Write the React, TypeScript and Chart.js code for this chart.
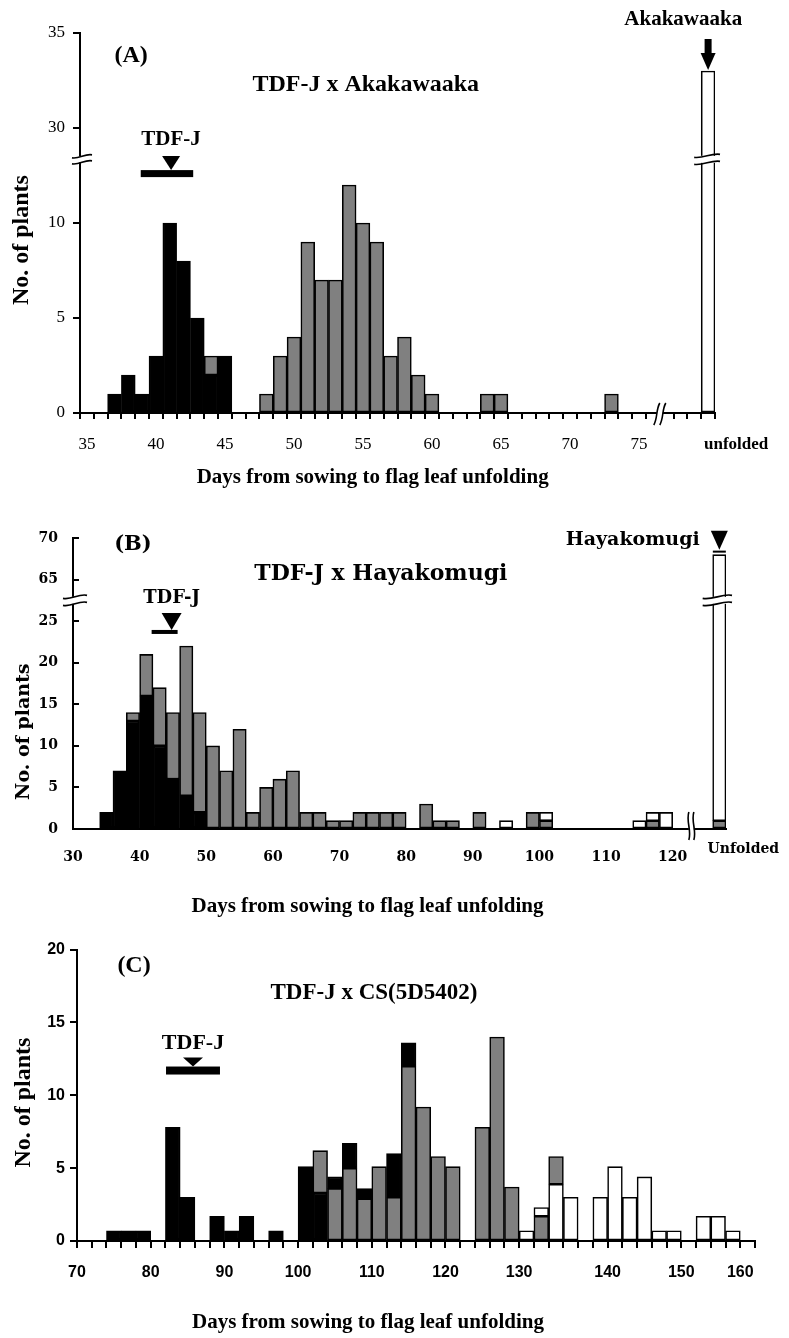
import React, { useEffect, useRef } from 'react';
import { Chart, registerables } from 'chart.js';

Chart.register(...registerables);

const SERIF = '"Liberation Serif", "Times New Roman", serif';
const CENTURY = '"DejaVu Serif", serif';
const SANS = '"Liberation Sans", Arial, sans-serif';
const BLACK = '#000000';
const GRAY = '#808080';
const WHITE = '#ffffff';

const xTitle = 'Days from sowing to flag leaf unfolding';
const yTitle = 'No. of plants';
const seriesNames = ['TDF-J type', 'Intermediate', 'Late type'];

// ===== Panel A: TDF-J x Akakawaaka (1-day classes) =====
const titleA = 'TDF-J x Akakawaaka';
const categoriesA = [
  '35', '36', '37', '38', '39', '40', '41', '42', '43', '44',
  '45', '46', '47', '48', '49', '50', '51', '52', '53', '54',
  '55', '56', '57', '58', '59', '60', '61', '62', '63', '64',
  '65', '66', '67', '68', '69', '70', '71', '72', '73', '74',
  '75', '76', '77', '78', '79', 'unfolded',
];
const blackA = [
  0, 0, 1, 2, 1, 3, 10, 8, 5, 2,
  3, 0, 0, 0, 0, 0, 0, 0, 0, 0,
  0, 0, 0, 0, 0, 0, 0, 0, 0, 0,
  0, 0, 0, 0, 0, 0, 0, 0, 0, 0,
  0, 0, 0, 0, 0, 0,
];
const grayA = [
  0, 0, 0, 0, 0, 0, 0, 0, 0, 1,
  0, 0, 0, 1, 3, 4, 9, 7, 7, 12,
  10, 9, 3, 4, 2, 1, 0, 0, 0, 1,
  1, 0, 0, 0, 0, 0, 0, 0, 1, 0,
  0, 0, 0, 0, 0, 0,
];
const whiteA = [
  0, 0, 0, 0, 0, 0, 0, 0, 0, 0,
  0, 0, 0, 0, 0, 0, 0, 0, 0, 0,
  0, 0, 0, 0, 0, 0, 0, 0, 0, 0,
  0, 0, 0, 0, 0, 0, 0, 0, 0, 0,
  0, 0, 0, 0, 0, 33,
];
const yTickValuesA = [0, 5, 10, 15, 20];
const yTickLabelsA = ['0', '5', '10', '30', '35'];
const axisBreakA = { at: 30, shift: 15 };
const xTickIndexA = [0, 5, 10, 15, 20, 25, 30, 35, 40];
const xTickLabelsA = ['35', '40', '45', '50', '55', '60', '65', '70', '75'];
const unfoldedIndexA = 45;
const parentA = { label: 'TDF-J', from: 3.9, to: 7.7, at: 6.1, y: 12.6 };
const donorA = { label: 'Akakawaaka', labelAt: 43.2, labelY: 20.7 };

// ===== Panel B: TDF-J x Hayakomugi (2-day classes) =====
const titleB = 'TDF-J x Hayakomugi';
const categoriesB = [
  '30', '32', '34', '36', '38', '40', '42', '44', '46', '48',
  '50', '52', '54', '56', '58', '60', '62', '64', '66', '68',
  '70', '72', '74', '76', '78', '80', '82', '84', '86', '88',
  '90', '92', '94', '96', '98', '100', '102', '104', '106', '108',
  '110', '112', '114', '116', '118', '120', '122', '124', 'Unfolded',
];
const blackB = [
  0, 0, 2, 7, 13, 16, 10, 6, 4, 2,
  0, 0, 0, 0, 0, 0, 0, 0, 0, 0,
  0, 0, 0, 0, 0, 0, 0, 0, 0, 0,
  0, 0, 0, 0, 0, 0, 0, 0, 0, 0,
  0, 0, 0, 0, 0, 0, 0, 0, 0,
];
const grayB = [
  0, 0, 0, 0, 1, 5, 7, 8, 18, 12,
  10, 7, 12, 2, 5, 6, 7, 2, 2, 1,
  1, 2, 2, 2, 2, 0, 3, 1, 1, 0,
  2, 0, 0, 0, 2, 1, 0, 0, 0, 0,
  0, 0, 0, 1, 0, 0, 0, 0, 1,
];
const whiteB = [
  0, 0, 0, 0, 0, 0, 0, 0, 0, 0,
  0, 0, 0, 0, 0, 0, 0, 0, 0, 0,
  0, 0, 0, 0, 0, 0, 0, 0, 0, 0,
  0, 0, 1, 0, 0, 1, 0, 0, 0, 0,
  0, 0, 1, 1, 2, 0, 0, 0, 67,
];
const yTickValuesB = [0, 5, 10, 15, 20, 25, 30, 35];
const yTickLabelsB = ['0', '5', '10', '15', '20', '25', '65', '70'];
const axisBreakB = { at: 60, shift: 35 };
const xTickIndexB = [0, 5, 10, 15, 20, 25, 30, 35, 40, 45];
const xTickLabelsB = ['30', '40', '50', '60', '70', '80', '90', '100', '110', '120'];
const unfoldedIndexB = 48;
const parentB = { label: 'TDF-J', from: 5.4, to: 7.35, at: 6.9, y: 23.7 };
const donorB = { label: 'Hayakomugi', labelAt: 41.5, labelY: 34.8 };

// ===== Panel C: TDF-J x CS(5D5402) (2-day classes) =====
const titleC = 'TDF-J x CS(5D5402)';
const categoriesC = [
  '70', '72', '74', '76', '78', '80', '82', '84', '86', '88',
  '90', '92', '94', '96', '98', '100', '102', '104', '106', '108',
  '110', '112', '114', '116', '118', '120', '122', '124', '126', '128',
  '130', '132', '134', '136', '138', '140', '142', '144', '146', '148',
  '150', '152', '154', '156', '158', '160',
];
const blackBaseC = [
  0, 0, 0.7, 0.7, 0.7, 0, 7.8, 3, 0, 1.7,
  0.7, 1.7, 0, 0.7, 0, 5.1, 3.3, 0, 0, 0,
  0, 0, 0, 0, 0, 0, 0, 0, 0, 0,
  0, 0, 0, 0, 0, 0, 0, 0, 0, 0,
  0, 0, 0, 0, 0, 0,
];
const whiteBaseC = [
  0, 0, 0, 0, 0, 0, 0, 0, 0, 0,
  0, 0, 0, 0, 0, 0, 0, 0, 0, 0,
  0, 0, 0, 0, 0, 0, 0, 0, 0, 0,
  0.7, 0, 3.9, 3, 0, 3, 5.1, 3, 4.4, 0.7,
  0.7, 0, 1.7, 1.7, 0.7, 0,
];
const grayC = [
  0, 0, 0, 0, 0, 0, 0, 0, 0, 0,
  0, 0, 0, 0, 0, 0, 2.9, 3.6, 5, 2.9,
  5.1, 3, 12, 9.2, 5.8, 5.1, 0, 7.8, 14, 3.7,
  0, 1.7, 1.9, 0, 0, 0, 0, 0, 0, 0,
  0, 0, 0, 0, 0, 0,
];
const blackCapC = [
  0, 0, 0, 0, 0, 0, 0, 0, 0, 0,
  0, 0, 0, 0, 0, 0, 0, 0.8, 1.7, 0.7,
  0, 3, 1.6, 0, 0, 0, 0, 0, 0, 0,
  0, 0, 0, 0, 0, 0, 0, 0, 0, 0,
  0, 0, 0, 0, 0, 0,
];
const whiteCapC = [
  0, 0, 0, 0, 0, 0, 0, 0, 0, 0,
  0, 0, 0, 0, 0, 0, 0, 0, 0, 0,
  0, 0, 0, 0, 0, 0, 0, 0, 0, 0,
  0, 0.6, 0, 0, 0, 0, 0, 0, 0, 0,
  0, 0, 0, 0, 0, 0,
];
const xTickIndexC = [0, 5, 10, 15, 20, 25, 30, 36, 41, 45];
const xTickLabelsC = ['70', '80', '90', '100', '110', '120', '130', '140', '150', '160'];
const parentC = { label: 'TDF-J', from: 5.54, to: 9.2, at: 7.37, y: 11.7 };

// ===== helpers =====
type Brk = { at: number; shift: number };

function toDisplay(stack: number[][], brk?: Brk) {
  const T = (v: number) => (brk && v >= brk.at ? v - brk.shift : v);
  return stack.map((series, si) =>
    series.map((v, i) => {
      if (!v) return null;
      let below = 0;
      for (let s = 0; s < si; s++) below += stack[s][i];
      return T(below + v) - T(below);
    })
  );
}

function datasets(stack: (number | null)[][], colors: string[], names: string[]) {
  return stack.map((data, i) => ({
    label: names[i],
    data,
    backgroundColor: colors[i],
    borderColor: '#000',
    borderWidth: 1.6,
    borderSkipped: false,
    barPercentage: 1,
    categoryPercentage: 1,
    stack: 'all',
  }));
}

function pick(indexes: number[], labels: string[]) {
  return (_v: any, i: number) => {
    const k = indexes.indexOf(i);
    return k >= 0 ? labels[k] : '';
  };
}

function txt(ctx: CanvasRenderingContext2D, s: string, x: number, y: number, font: string, align: CanvasTextAlign = 'center') {
  ctx.font = font;
  ctx.fillStyle = '#000';
  ctx.textAlign = align;
  ctx.textBaseline = 'middle';
  ctx.fillText(s, x, y);
}

function vtext(ctx: CanvasRenderingContext2D, s: string, x: number, y: number, font: string) {
  ctx.save();
  ctx.translate(x, y);
  ctx.rotate(-Math.PI / 2);
  txt(ctx, s, 0, 0, font);
  ctx.restore();
}

function wave(ctx: CanvasRenderingContext2D, x1: number, y1: number, x2: number, y2: number, amp: number) {
  const dx = x2 - x1, dy = y2 - y1;
  const len = Math.hypot(dx, dy) || 1;
  const nx = -dy / len, ny = dx / len;
  ctx.beginPath();
  ctx.moveTo(x1, y1);
  ctx.bezierCurveTo(
    x1 + dx / 3 + nx * amp, y1 + dy / 3 + ny * amp,
    x1 + (2 * dx) / 3 - nx * amp, y1 + (2 * dy) / 3 - ny * amp,
    x2, y2
  );
  ctx.stroke();
}

// break crossing a vertical line (axis or bar), drawn as two wavy strokes
function breakH(ctx: CanvasRenderingContext2D, xl: number, xr: number, y: number, gap: number, amp: number) {
  ctx.fillStyle = '#fff';
  ctx.fillRect(xl + 2, y - gap / 2, xr - xl - 4, gap);
  ctx.strokeStyle = '#000';
  ctx.lineWidth = 1.6;
  wave(ctx, xl, y - gap / 2 + 1.5, xr, y - gap / 2 - 1.5, amp);
  wave(ctx, xl, y + gap / 2 + 1.5, xr, y + gap / 2 - 1.5, amp);
}

// break crossing the horizontal x axis
function breakV(ctx: CanvasRenderingContext2D, x: number, yt: number, yb: number, gap: number, amp: number, slant: number) {
  ctx.fillStyle = '#fff';
  ctx.fillRect(x - gap / 2, yt + 3, gap, yb - yt - 6);
  ctx.strokeStyle = '#000';
  ctx.lineWidth = 1.6;
  wave(ctx, x - gap / 2 - slant, yb, x - gap / 2 + slant, yt, amp);
  wave(ctx, x + gap / 2 - slant, yb, x + gap / 2 + slant, yt, amp);
}

function parentMarker(
  ctx: CanvasRenderingContext2D, x1: number, x2: number, xt: number, yc: number,
  barH: number, triW: number, triH: number, label: string, font: string, gap: number
) {
  ctx.fillStyle = '#000';
  ctx.fillRect(x1, yc - barH / 2, x2 - x1, barH);
  const top = yc - barH / 2 - triH;
  ctx.beginPath();
  ctx.moveTo(xt - triW / 2, top);
  ctx.lineTo(xt + triW / 2, top);
  ctx.lineTo(xt, yc - barH / 2);
  ctx.closePath();
  ctx.fill();
  txt(ctx, label, xt, top - gap, font);
}

type H = {
  ctx: CanvasRenderingContext2D;
  px: (i: number) => number;
  py: (v: number) => number;
  area: { left: number; right: number; top: number; bottom: number };
  half: number;
};

function overlay(id: string, draw: (h: H) => void) {
  return {
    id,
    afterDraw(chart: any) {
      const ctx = chart.ctx as CanvasRenderingContext2D;
      const xs = chart.scales.x;
      const ys = chart.scales.y;
      const px = (i: number) => xs.getPixelForValue(i);
      const py = (v: number) => ys.getPixelForValue(v);
      ctx.save();
      draw({ ctx, px, py, area: chart.chartArea, half: (px(1) - px(0)) / 2 });
      ctx.restore();
    },
  };
}

const baseOptions = {
  animation: false,
  responsive: true,
  maintainAspectRatio: false,
  events: [],
  plugins: { legend: { display: false }, tooltip: { enabled: false }, title: { display: false } },
};

// ===== Panel A config =====
const fontA = { family: SERIF, size: 17 };
const padXA = 15;
const overlayA = overlay('overlayA', ({ ctx, px, py, area, half }) => {
  txt(ctx, '(A)', px(3.2), py(18.8), `bold 24px ${SERIF}`);
  txt(ctx, titleA, px(20.2), py(17.3), `bold 24px ${SERIF}`);
  parentMarker(ctx, px(parentA.from), px(parentA.to), px(parentA.at), py(parentA.y), 7, 18, 14, parentA.label, `bold 21px ${SERIF}`, 17);
  const xd = px(unfoldedIndexA);
  const tip = py(whiteA[unfoldedIndexA] - axisBreakA.shift) - 1;
  ctx.fillStyle = '#000';
  ctx.fillRect(xd - 3.5, tip - 31, 7, 15);
  ctx.beginPath();
  ctx.moveTo(xd - 7.5, tip - 17);
  ctx.lineTo(xd + 7.5, tip - 17);
  ctx.lineTo(xd, tip);
  ctx.closePath();
  ctx.fill();
  txt(ctx, donorA.label, px(donorA.labelAt), py(donorA.labelY), `bold 21px ${SERIF}`);
  txt(ctx, categoriesA[unfoldedIndexA], xd + 28, area.bottom + 6 + padXA + 10.2, `bold 17px ${SERIF}`);
  const yb = py(13.35);
  breakH(ctx, area.left - 8, area.left + 12, yb, 6, 2.5);
  breakH(ctx, xd - half - 7, xd + half + 5, yb, 7, 2.5);
  breakV(ctx, px(41.5), area.bottom - 10, area.bottom + 12, 6, 2, 3);
  txt(ctx, xTitle, px(20.7), area.bottom + 65, `bold 21px ${SERIF}`);
  vtext(ctx, yTitle, area.left - 58, py(9.1), `bold 24px ${SERIF}`);
});

function configA(): any {
  return {
    type: 'bar',
    data: {
      labels: categoriesA,
      datasets: datasets(toDisplay([blackA, grayA, whiteA], axisBreakA), [BLACK, GRAY, WHITE], seriesNames),
    },
    options: {
      ...baseOptions,
      layout: { padding: { left: 0, top: 33, right: 74, bottom: 0 } },
      scales: {
        x: {
          stacked: true,
          offset: true,
          afterFit: (s: any) => { s.height = 77; },
          grid: { display: true, offset: true, drawOnChartArea: false, drawTicks: true, tickLength: 6, color: '#000', lineWidth: 2 },
          border: { display: true, color: '#000', width: 2 },
          ticks: { autoSkip: false, maxRotation: 0, minRotation: 0, padding: padXA, color: '#000', font: fontA, callback: pick(xTickIndexA, xTickLabelsA) },
        },
        y: {
          stacked: true,
          min: 0,
          max: 20,
          afterFit: (s: any) => { s.width = 80; },
          grid: { drawOnChartArea: false, drawTicks: true, tickLength: 7, color: '#000', lineWidth: 2 },
          border: { display: true, color: '#000', width: 2 },
          ticks: { stepSize: 5, padding: 8, color: '#000', font: fontA, callback: (v: number) => pick(yTickValuesA, yTickLabelsA)(v, v) },
        },
      },
    },
    plugins: [overlayA],
  };
}

// ===== Panel B config =====
const fontB = { family: CENTURY, size: 14, weight: 'bold' as const };
const padXB = 12;
const overlayB = overlay('overlayB', ({ ctx, px, py, area, half }) => {
  txt(ctx, '(B)', px(4.0), py(34.2), `bold 21px ${CENTURY}`);
  txt(ctx, titleB, px(22.6), py(30.6), `bold 22px ${CENTURY}`);
  parentMarker(ctx, px(parentB.from), px(parentB.to), px(parentB.at), py(parentB.y), 4, 20, 17, parentB.label, `bold 18px ${CENTURY}`, 15);
  const xd = px(unfoldedIndexB);
  const total = grayB[unfoldedIndexB] + whiteB[unfoldedIndexB];
  const top = py(total - axisBreakB.shift);
  ctx.fillStyle = '#000';
  ctx.fillRect(xd - 6.5, top - 4, 13, 2);
  ctx.beginPath();
  ctx.moveTo(xd - 8.5, top - 24);
  ctx.lineTo(xd + 8.5, top - 24);
  ctx.lineTo(xd, top - 5);
  ctx.closePath();
  ctx.fill();
  txt(ctx, donorB.label, px(donorB.labelAt), py(donorB.labelY), `bold 19px ${CENTURY}`);
  txt(ctx, categoriesB[unfoldedIndexB], xd + 24, area.bottom + padXB + 8.4, `bold 14px ${CENTURY}`);
  const yb = py(27.5);
  breakH(ctx, area.left - 10, area.left + 14, yb, 7, 3);
  breakH(ctx, xd - half - 10, xd + half + 6, yb, 7, 3);
  breakV(ctx, px(45.9), area.bottom - 17, area.bottom + 11, 5, 3, 0);
  txt(ctx, xTitle, px(21.6), area.bottom + 78, `bold 21px ${SERIF}`);
  vtext(ctx, yTitle, area.left - 49, py(11.7), `bold 19px ${CENTURY}`);
});

function configB(): any {
  return {
    type: 'bar',
    data: {
      labels: categoriesB,
      datasets: datasets(toDisplay([blackB, grayB, whiteB], axisBreakB), [BLACK, GRAY, WHITE], seriesNames),
    },
    options: {
      ...baseOptions,
      layout: { padding: { left: 0, top: 48, right: 63, bottom: 0 } },
      scales: {
        x: {
          stacked: true,
          offset: true,
          afterFit: (s: any) => { s.height = 106; },
          grid: { display: false },
          border: { display: true, color: '#000', width: 2 },
          ticks: { autoSkip: false, maxRotation: 0, minRotation: 0, padding: padXB, labelOffset: -6.66, color: '#000', font: fontB, callback: pick(xTickIndexB, xTickLabelsB) },
        },
        y: {
          stacked: true,
          min: 0,
          max: 35,
          afterFit: (s: any) => { s.width = 73; },
          grid: { drawOnChartArea: false, drawTicks: true, tickLength: -6, color: '#000', lineWidth: 2 },
          border: { display: true, color: '#000', width: 2 },
          ticks: { stepSize: 5, padding: 21, color: '#000', font: fontB, callback: (v: number) => pick(yTickValuesB, yTickLabelsB)(v, v) },
        },
      },
    },
    plugins: [overlayB],
  };
}

// ===== Panel C config =====
const fontC = { family: SANS, size: 16, weight: 'bold' as const };
const overlayC = overlay('overlayC', ({ ctx, px, py, area }) => {
  txt(ctx, '(C)', px(3.37), py(18.9), `bold 24px ${SERIF}`);
  txt(ctx, titleC, px(19.65), py(17.0), `bold 23px ${SERIF}`);
  parentMarker(ctx, px(parentC.from), px(parentC.to), px(parentC.at), py(parentC.y), 8, 20, 9, parentC.label, `bold 22px ${SERIF}`, 14);
  txt(ctx, xTitle, px(19.24), area.bottom + 82, `bold 21px ${SERIF}`);
  vtext(ctx, yTitle, area.left - 53, py(9.5), `bold 24px ${SERIF}`);
});

function configC(): any {
  return {
    type: 'bar',
    data: {
      labels: categoriesC,
      datasets: datasets(
        toDisplay([blackBaseC, whiteBaseC, grayC, blackCapC, whiteCapC]),
        [BLACK, WHITE, GRAY, BLACK, WHITE],
        ['TDF-J type', 'Late type', 'Intermediate', 'TDF-J type (upper)', 'Late type (upper)']
      ),
    },
    options: {
      ...baseOptions,
      layout: { padding: { left: 0, top: 14, right: 34, bottom: 0 } },
      scales: {
        x: {
          stacked: true,
          offset: true,
          afterFit: (s: any) => { s.height = 97; },
          grid: { display: true, offset: true, drawOnChartArea: false, drawTicks: true, tickLength: 7, color: '#000', lineWidth: 2 },
          border: { display: true, color: '#000', width: 2 },
          ticks: { autoSkip: false, maxRotation: 0, minRotation: 0, padding: 15, labelOffset: -7.37, color: '#000', font: fontC, callback: pick(xTickIndexC, xTickLabelsC) },
        },
        y: {
          stacked: true,
          min: 0,
          max: 20,
          afterFit: (s: any) => { s.width = 77; },
          grid: { drawOnChartArea: false, drawTicks: true, tickLength: 7, color: '#000', lineWidth: 2 },
          border: { display: true, color: '#000', width: 2 },
          ticks: { stepSize: 5, padding: 5, color: '#000', font: fontC },
        },
      },
    },
    plugins: [overlayC],
  };
}

function Panel({ top, height, make }: { top: number; height: number; make: () => any }) {
  const ref = useRef<HTMLCanvasElement>(null);
  useEffect(() => {
    const chart = new Chart(ref.current as HTMLCanvasElement, make());
    return () => chart.destroy();
  }, [make]);
  return (
    <div style={{ position: 'absolute', left: 0, top, width: 789, height }}>
      <canvas ref={ref} />
    </div>
  );
}

export default function App() {
  return (
    <div style={{ position: 'absolute', left: 0, top: 0, width: 789, height: 1338, background: '#fff', overflow: 'hidden' }}>
      <Panel top={0} height={490} make={configA} />
      <Panel top={490} height={445} make={configB} />
      <Panel top={935} height={403} make={configC} />
    </div>
  );
}
